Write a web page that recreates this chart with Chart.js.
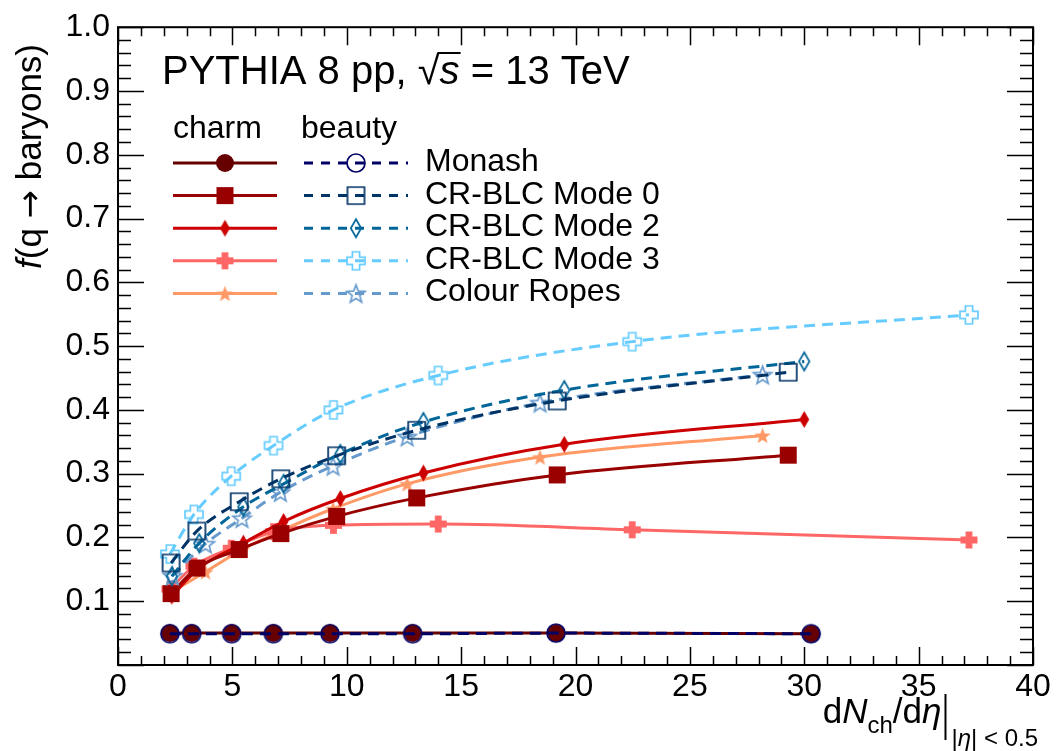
<!DOCTYPE html>
<html>
<head>
<meta charset="utf-8">
<script src="https://cdn.jsdelivr.net/npm/chart.js@4"></script>
<style>
  html, body { margin: 0; padding: 0; background: #fff; }
  #wrap { width: 1057px; height: 751px; }
</style>
</head>
<body>
<div id="wrap"><canvas id="chart" width="1057" height="751"></canvas></div>
<script>
// dNch/deta per multiplicity class, and baryon fractions
const monashX = [2.27, 3.22, 4.97, 6.79, 9.27, 12.88, 19.15, 30.3];
const monashCharm = [0.050, 0.050, 0.050, 0.050, 0.050, 0.050, 0.050, 0.049];
const monashBeauty = [0.049, 0.049, 0.049, 0.049, 0.049, 0.049, 0.050, 0.049];

const mode0X = [2.32, 3.45, 5.3, 7.12, 9.56, 13.06, 19.2, 29.3];
const mode0Charm = [0.112, 0.152, 0.181, 0.206, 0.233, 0.262, 0.298, 0.329];
const mode0Beauty = [0.160, 0.210, 0.256, 0.292, 0.328, 0.368, 0.414, 0.459];

const mode2X = [2.35, 3.55, 5.48, 7.24, 9.72, 13.35, 19.51, 30.0];
const mode2Charm = [0.108, 0.152, 0.191, 0.225, 0.261, 0.301, 0.346, 0.385];
const mode2Beauty = [0.139, 0.191, 0.248, 0.284, 0.331, 0.381, 0.431, 0.476];

const mode3X = [2.27, 3.32, 4.95, 6.8, 9.42, 14.0, 22.48, 37.2];
const mode3Charm = [0.119, 0.155, 0.183, 0.209, 0.219, 0.221, 0.212, 0.196];
const mode3Beauty = [0.174, 0.236, 0.296, 0.344, 0.400, 0.454, 0.507, 0.549];

const ropesX = [2.38, 3.82, 5.42, 7.1, 9.4, 12.64, 18.45, 28.18];
const ropesCharm = [0.115, 0.146, 0.181, 0.210, 0.245, 0.284, 0.326, 0.360];
const ropesBeauty = [0.140, 0.190, 0.230, 0.271, 0.312, 0.358, 0.411, 0.455];

const xTicks = [0, 5, 10, 15, 20, 25, 30, 35, 40];
const yTicks = [0, 0.1, 0.2, 0.3, 0.4, 0.5, 0.6, 0.7, 0.8, 0.9, 1.0];

const FONT = '"Liberation Sans", Arial, Helvetica, sans-serif';

// ROOT-like marker drawn on a small canvas
function marker(shape, color, filled, size) {
  const pad = 3;
  const c = document.createElement('canvas');
  c.width = c.height = size + pad * 2;
  const g = c.getContext('2d');
  g.translate(c.width / 2, c.height / 2);
  const h = size / 2;
  g.beginPath();
  if (shape === 'circle') {
    g.arc(0, 0, h, 0, Math.PI * 2);
  } else if (shape === 'square') {
    g.rect(-h, -h, size, size);
  } else if (shape === 'diamond') {
    const w = h * 0.58;
    g.moveTo(0, -h); g.lineTo(w, 0); g.lineTo(0, h); g.lineTo(-w, 0); g.closePath();
  } else if (shape === 'cross') {
    const t = size * 0.2;
    const pts = [[-t, -h], [t, -h], [t, -t], [h, -t], [h, t], [t, t], [t, h], [-t, h], [-t, t], [-h, t], [-h, -t], [-t, -t]];
    pts.forEach((p, i) => i ? g.lineTo(p[0], p[1]) : g.moveTo(p[0], p[1]));
    g.closePath();
  } else if (shape === 'star') {
    for (let i = 0; i < 10; i++) {
      const r = i % 2 ? h * 0.42 : h;
      const a = -Math.PI / 2 + i * Math.PI / 5;
      const px = r * Math.cos(a), py = r * Math.sin(a) + h * 0.1;
      i ? g.lineTo(px, py) : g.moveTo(px, py);
    }
    g.closePath();
  }
  if (filled) {
    g.fillStyle = color;
    g.fill();
  } else {
    g.strokeStyle = color;
    g.lineWidth = 1.7;
    g.stroke();
  }
  return c;
}

const tunes = [
  { name: 'Monash', x: monashX, charm: monashCharm, beauty: monashBeauty, shape: 'circle',
    charmColor: '#660000', beautyColor: '#000066', charmSize: 18, beautySize: 18 },
  { name: 'CR-BLC Mode 0', x: mode0X, charm: mode0Charm, beauty: mode0Beauty, shape: 'square',
    charmColor: '#990000', beautyColor: '#003366', charmSize: 17, beautySize: 17 },
  { name: 'CR-BLC Mode 2', x: mode2X, charm: mode2Charm, beauty: mode2Beauty, shape: 'diamond',
    charmColor: '#CC0000', beautyColor: '#006699', charmSize: 17, beautySize: 18 },
  { name: 'CR-BLC Mode 3', x: mode3X, charm: mode3Charm, beauty: mode3Beauty, shape: 'cross',
    charmColor: '#FF6666', beautyColor: '#66CCFF', charmSize: 17, beautySize: 18 },
  { name: 'Colour Ropes', x: ropesX, charm: ropesCharm, beauty: ropesBeauty, shape: 'star',
    charmColor: '#FF9966', beautyColor: '#6699CC', charmSize: 17, beautySize: 19 }
];

tunes.forEach(t => {
  t.charmMarker = marker(t.shape, t.charmColor, true, t.charmSize);
  t.beautyMarker = marker(t.shape, t.beautyColor, false, t.beautySize);
});

function series(xs, ys) {
  return xs.map((x, i) => ({ x: x, y: ys[i] }));
}

const datasets = [];
tunes.forEach(t => {
  datasets.push({
    label: t.name + ' charm',
    data: series(t.x, t.charm),
    showLine: true,
    borderColor: t.charmColor,
    borderWidth: 3,
    cubicInterpolationMode: 'monotone',
    pointStyle: t.charmMarker,
    pointRadius: 9,
    order: 1
  });
  datasets.push({
    label: t.name + ' beauty',
    data: series(t.x, t.beauty),
    showLine: true,
    borderColor: t.beautyColor,
    borderWidth: 3,
    borderDash: [11, 7],
    cubicInterpolationMode: 'monotone',
    pointStyle: t.beautyMarker,
    pointRadius: 9,
    order: 0
  });
});

// frame with inward ticks on all sides, titles and the two-column legend
const rootStyle = {
  id: 'rootStyle',
  afterDatasetsDraw(chart) {
    const { ctx, chartArea: a, scales: { x, y } } = chart;
    ctx.save();
    ctx.strokeStyle = '#000';
    ctx.lineWidth = 1.5;
    ctx.beginPath();
    for (let v = x.min; v <= x.max; v += 1) {
      const px = Math.round(x.getPixelForValue(v)) + 0.5;
      const len = v % 5 === 0 ? 18 : 9;
      ctx.moveTo(px, a.bottom); ctx.lineTo(px, a.bottom - len);
      ctx.moveTo(px, a.top); ctx.lineTo(px, a.top + len);
    }
    for (let i = 0; i <= 50; i++) {
      const py = Math.round(y.getPixelForValue(i * 0.02)) + 0.5;
      const len = i % 5 === 0 ? 26 : 13;
      ctx.moveTo(a.left, py); ctx.lineTo(a.left + len, py);
      ctx.moveTo(a.right, py); ctx.lineTo(a.right - len, py);
    }
    ctx.stroke();
    ctx.lineWidth = 2;
    ctx.strokeRect(a.left, a.top, a.right - a.left, a.bottom - a.top);
    ctx.restore();
  },
  afterDraw(chart) {
    const ctx = chart.ctx;
    ctx.save();
    ctx.fillStyle = '#000';
    ctx.textBaseline = 'alphabetic';

    // header: PYTHIA 8 pp, sqrt(s) = 13 TeV
    let cx = 162;
    const by = 84;
    ctx.font = '40px ' + FONT;
    ctx.fillText('PYTHIA 8 pp, ', cx, by);
    cx += ctx.measureText('PYTHIA 8 pp, ').width;
    const rad = ctx.measureText('\u221A');
    ctx.fillText('\u221A', cx, by);
    const topY = by - rad.actualBoundingBoxAscent + 1;
    const barStart = cx + rad.width - 2;
    cx += rad.width;
    ctx.font = 'italic 40px ' + FONT;
    ctx.fillText('s', cx, by);
    cx += ctx.measureText('s').width;
    ctx.strokeStyle = '#000';
    ctx.lineWidth = 2;
    ctx.beginPath();
    ctx.moveTo(barStart, topY);
    ctx.lineTo(cx + 1, topY);
    ctx.stroke();
    ctx.font = '40px ' + FONT;
    ctx.fillText(' = 13 TeV', cx, by);

    // x title: dNch/deta |_{|eta| < 0.5}, right aligned
    const big = '35px ' + FONT, bigI = 'italic 35px ' + FONT;
    const small = '24px ' + FONT, smallI = 'italic 24px ' + FONT;
    const parts = [
      { t: 'd', f: big, dy: 0 }, { t: 'N', f: bigI, dy: 0 }, { t: 'ch', f: small, dy: 10 },
      { t: '/d', f: big, dy: 0 }, { t: '\u03B7', f: bigI, dy: 0 }, { t: 'BAR' },
      { t: '|', f: small, dy: 23 }, { t: '\u03B7', f: smallI, dy: 23 }, { t: '| < 0.5', f: small, dy: 23 }
    ];
    let total = 0;
    parts.forEach(p => {
      if (p.t === 'BAR') { p.w = 10; } else { ctx.font = p.f; p.w = ctx.measureText(p.t).width; }
      total += p.w;
    });
    let tx = 1038 - total;
    const tb = 723;
    parts.forEach(p => {
      if (p.t === 'BAR') {
        ctx.lineWidth = 2;
        ctx.beginPath();
        ctx.moveTo(tx + 4, 694);
        ctx.lineTo(tx + 4, 740);
        ctx.stroke();
      } else {
        ctx.font = p.f;
        ctx.fillText(p.t, tx, tb + p.dy);
      }
      tx += p.w;
    });

    // y title: f(q -> baryons), rotated, end at top
    ctx.save();
    ctx.translate(41, 44);
    ctx.rotate(-Math.PI / 2);
    const yParts = [
      { t: 'f', f: bigI }, { t: '(q ', f: big }, { t: '\u2192', f: '34px "DejaVu Sans", sans-serif' },
      { t: ' baryons)', f: big }
    ];
    let yw = 0;
    yParts.forEach(p => { ctx.font = p.f; p.w = ctx.measureText(p.t).width; yw += p.w; });
    let yx = -yw;
    yParts.forEach(p => { ctx.font = p.f; ctx.fillText(p.t, yx, 0); yx += p.w; });
    ctx.restore();

    // legend
    ctx.font = '32px ' + FONT;
    ctx.fillText('charm', 173, 138);
    ctx.fillText('beauty', 301, 138);
    tunes.forEach((t, i) => {
      const ly = 163 + i * 32.6;
      ctx.lineWidth = 3;
      ctx.setLineDash([]);
      ctx.strokeStyle = t.charmColor;
      ctx.beginPath();
      ctx.moveTo(173, ly); ctx.lineTo(277, ly);
      ctx.stroke();
      ctx.drawImage(t.charmMarker, 225 - t.charmMarker.width / 2, ly - t.charmMarker.height / 2);
      ctx.setLineDash([9, 8]);
      ctx.strokeStyle = t.beautyColor;
      ctx.beginPath();
      ctx.moveTo(304, ly); ctx.lineTo(408, ly);
      ctx.stroke();
      ctx.setLineDash([]);
      ctx.drawImage(t.beautyMarker, 356 - t.beautyMarker.width / 2, ly - t.beautyMarker.height / 2);
      ctx.fillStyle = '#000';
      ctx.fillText(t.name, 425, ly + 8);
    });
    ctx.restore();
  }
};

new Chart(document.getElementById('chart'), {
  type: 'scatter',
  data: { datasets: datasets },
  options: {
    responsive: false,
    animation: false,
    events: [],
    layout: { padding: { top: 20, right: 24, bottom: 0, left: 0 } },
    plugins: { legend: { display: false }, tooltip: { enabled: false } },
    scales: {
      x: {
        type: 'linear',
        min: 0,
        max: 40,
        afterBuildTicks: s => { s.ticks = xTicks.map(v => ({ value: v })); },
        afterFit: s => { s.height = 86; },
        ticks: {
          color: '#000',
          font: { family: FONT, size: 32 },
          padding: 3,
          maxRotation: 0,
          autoSkip: false
        },
        grid: { display: false, drawTicks: false },
        border: { display: false }
      },
      y: {
        type: 'linear',
        min: 0,
        max: 1,
        afterBuildTicks: s => { s.ticks = yTicks.map(v => ({ value: v })); },
        afterFit: s => { s.width = 118; },
        ticks: {
          color: '#000',
          font: { family: FONT, size: 32 },
          padding: 8,
          callback: v => v === 0 ? '' : v.toFixed(1)
        },
        grid: { display: false, drawTicks: false },
        border: { display: false }
      }
    }
  },
  plugins: [rootStyle]
});
</script>
</body>
</html>
